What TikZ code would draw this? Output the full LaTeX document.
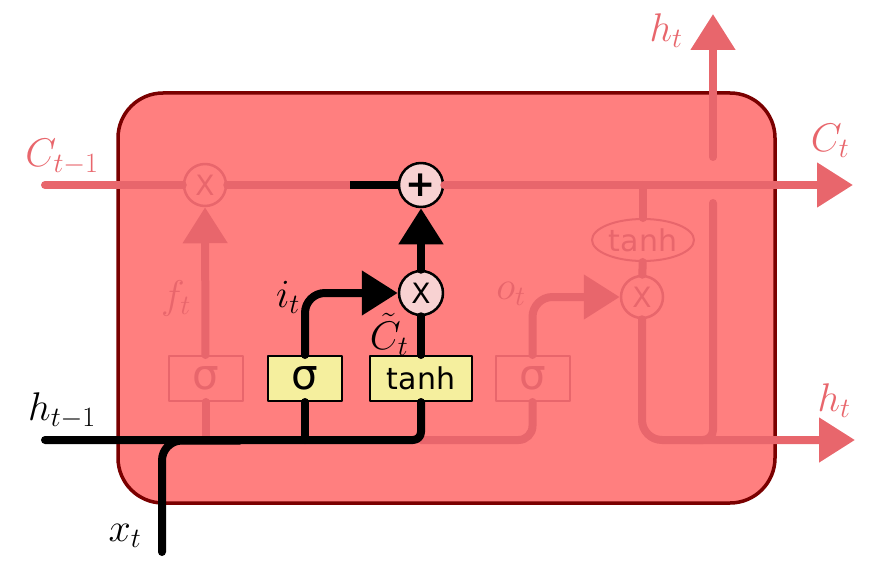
\RequirePackage{fix-cm}
\documentclass[tikz,border=0pt]{standalone}
\usepackage{fontspec}
\newfontfamily\lstmSans{DejaVu Sans}
\usetikzlibrary{arrows.meta,shapes.geometric}
\begin{document}
\begin{tikzpicture}[x=1pt, y=-1pt, line join=round]
% LSTM cell with the input gate highlighted
\definecolor{lstmCellFill}{RGB}{255,127,127}
\definecolor{lstmCellBorder}{RGB}{122,0,0}
\definecolor{lstmFaded}{RGB}{232,102,108}
\definecolor{lstmGateFill}{RGB}{245,239,158}
\definecolor{lstmOpFill}{RGB}{248,210,210}
\providecommand{\lstmLineWidth}{8pt}
\providecommand{\lstmCellRadius}{45pt}
\providecommand{\lstmMath}{\fontsize{40}{48}\selectfont}
\tikzset{
  lstmWire/.style={line width=\lstmLineWidth, line cap=round},
  lstmInk/.style={lstmWire, draw=black},
  lstmFade/.style={lstmWire, draw=lstmFaded},
  lstmHead/.style={-{Triangle[length=36pt,width=43pt]}},
  gateInk/.style={rectangle, draw=black, line width=2pt, fill=lstmGateFill, minimum width=74pt, minimum height=45pt, inner sep=0pt, font={\lstmSans\fontsize{42}{42}\selectfont}},
  gateFade/.style={rectangle, draw=lstmFaded, line width=2pt, minimum width=74pt, minimum height=45pt, inner sep=0pt, text=lstmFaded, font={\lstmSans\fontsize{42}{42}\selectfont}},
  opInk/.style={circle, draw=black, line width=2.5pt, fill=lstmOpFill, minimum size=44pt, inner sep=0pt, font={\lstmSans\fontsize{28}{28}\selectfont}},
  opFade/.style={circle, draw=lstmFaded, line width=2.5pt, minimum size=42pt, inner sep=0pt, text=lstmFaded, font={\lstmSans\fontsize{28}{28}\selectfont}},
  lblInk/.style={font=\lstmMath, inner sep=0pt},
  lblFade/.style={font=\lstmMath, inner sep=0pt, text=lstmFaded}
}
\useasboundingbox (0,0) rectangle (875,564);
% Cell body
\draw[fill=lstmCellFill, draw=lstmCellBorder, line width=3.5pt, rounded corners=\lstmCellRadius] (118,93) rectangle (775,503);
% Operators and gates
\node[opFade] (mulF) at (205,185) {X};
\node[opInk, font={\lstmSans\bfseries\fontsize{36}{36}\selectfont}] (addC) at (421,185) {+};
\node[opInk] (mulI) at (421,293) {X};
\node[opFade] (mulO) at (642,297) {X};
\node[gateFade] (sigF) at (205.5,378.5) {σ};
\node[gateInk] (sigI) at (305,378.5) {σ};
\node[gateInk, minimum width=102pt, font={\lstmSans\fontsize{30}{30}\selectfont}] (tanhI) at (421,378.5) {tanh};
\node[gateFade] (sigO) at (532.5,378.5) {σ};
\node[ellipse, draw=lstmFaded, line width=2pt, minimum width=102pt, minimum height=42pt, inner sep=0pt, text=lstmFaded, font={\lstmSans\fontsize{30}{30}\selectfont}] (tanhO) at (643,240) {tanh};
% Free ends and bends
\coordinate (cIn) at (45,185);
\coordinate (cOut) at (853,185);
\coordinate (cCut) at (350,185);
\coordinate (hIn) at (45,440);
\coordinate (xIn) at (162,552);
\coordinate (xJoin) at (240,440.5);
\coordinate (hOut) at (855,440);
\coordinate (hBend) at (690,440);
\coordinate (hGapBot) at (713,203);
\coordinate (hGapTop) at (713,157);
\coordinate (hUp) at (713,14);
% Faded wires
\draw[lstmFade] (cIn) -- (mulF);
\draw[lstmFade] (mulF) -- (cCut);
\draw[lstmFade, lstmHead] (addC) -- (cOut);
\draw[lstmFade, lstmHead] (sigF) -- (mulF);
\draw[lstmFade] (sigF) -- (sigF |- hIn);
\draw[lstmFade, rounded corners=14pt] (tanhI |- hIn) -| (sigO);
\draw[lstmFade, lstmHead, rounded corners=20pt] (sigO) |- (mulO);
\draw[lstmFade] (tanhO |- cIn) -- (tanhO);
\draw[lstmFade] (tanhO) -- (mulO);
\draw[lstmFade, lstmHead, rounded corners=20pt] (mulO) |- (hOut);
\draw[lstmFade, rounded corners=10pt] (hGapBot) |- (hBend);
\draw[lstmFade, lstmHead] (hGapTop) -- (hUp);
% Highlighted wires
\draw[lstmInk, line cap=butt] (cCut) -- (addC);
\draw[lstmInk, rounded corners=8pt] (hIn) -| (tanhI);
\draw[lstmInk] (sigI) -- (sigI |- hIn);
\draw[lstmInk, rounded corners=20pt] (xIn) |- (xJoin);
\draw[lstmInk, lstmHead, rounded corners=20pt] (sigI) |- (mulI);
\draw[lstmInk] (tanhI) -- (mulI);
\draw[lstmInk, lstmHead] (mulI) -- (addC);
% Labels
\node[lblFade] (cPrevLbl) at (62,157) {$C_{t-1}$};
\node[lblInk] (hPrevLbl) at (62,411) {$h_{t-1}$};
\node[lblInk] (xLbl) at (125,536) {$x_t$};
\node[lblFade] (fLbl) at (176,298) {$f_t$};
\node[lblInk] (iLbl) at (288,297) {$i_t$};
\node[lblInk] (cTildeLbl) at (389,334) {$\tilde{C}_t$};
\node[lblFade] (oLbl) at (511,294) {$o_t$};
\node[lblFade] (hOutLbl) at (834,401) {$h_t$};
\node[lblFade] (cOutLbl) at (830,141) {$C_t$};
\node[lblFade] (hUpLbl) at (666,31) {$h_t$};
\end{tikzpicture}
\end{document}
